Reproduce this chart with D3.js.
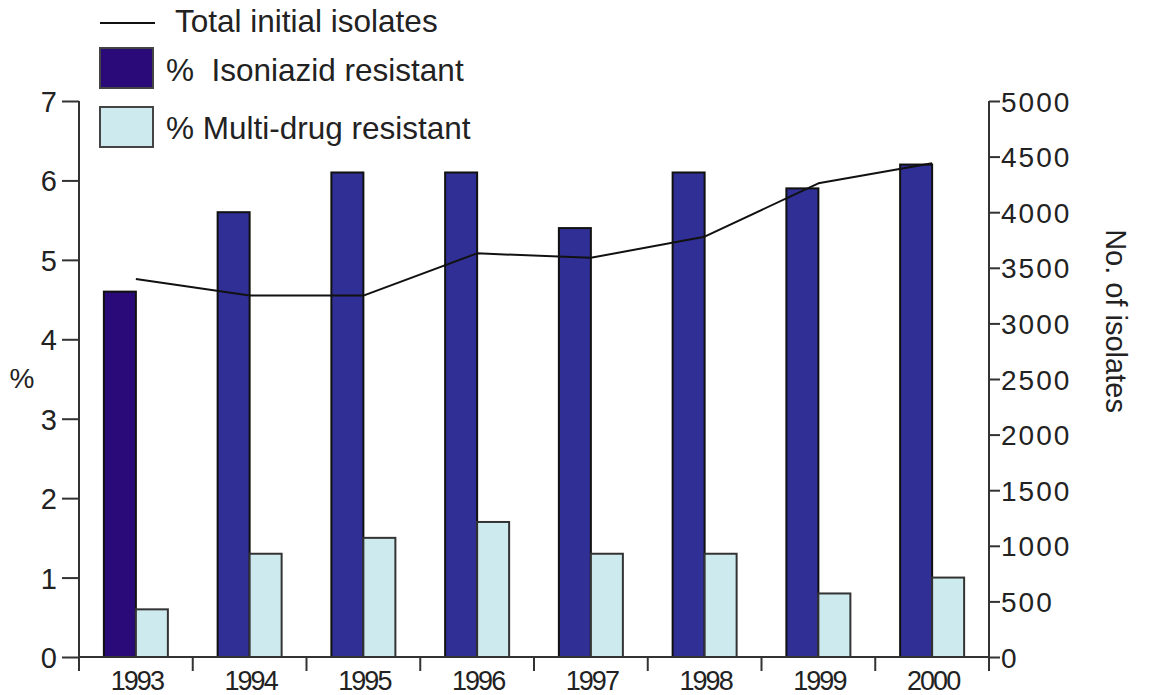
<!DOCTYPE html>
<html>
<head>
<meta charset="utf-8">
<script src="https://cdn.jsdelivr.net/npm/d3@7"></script>
<style>
  body { margin: 0; background: #fff; }
  svg text { font-family: "Liberation Sans", Arial, sans-serif; fill: #222; }
</style>
</head>
<body>
<svg width="1149" height="695"></svg>
<script>
// data
const years = ["1993", "1994", "1995", "1996", "1997", "1998", "1999", "2000"];
const isoniazid = [4.6, 5.6, 6.1, 6.1, 5.4, 6.1, 5.9, 6.2];
const multiDrug = [0.6, 1.3, 1.5, 1.7, 1.3, 1.3, 0.8, 1.0];
const isolates = [3400, 3250, 3250, 3630, 3590, 3780, 4260, 4440];
const pctTicks = [0, 1, 2, 3, 4, 5, 6, 7];
const countTicks = [0, 500, 1000, 1500, 2000, 2500, 3000, 3500, 4000, 4500, 5000];

const svgWidth = 1149, svgHeight = 695;
const margin = { top: 101, right: 160, bottom: 38, left: 79 };
const width = svgWidth - margin.left - margin.right;
const height = svgHeight - margin.top - margin.bottom;

const axisColor = "#333";
const darkFirst = "#2a0a78", dark = "#2f2f95", light = "#cdebee";

const svg = d3.select("svg");
const g = svg.append("g")
    .attr("transform", "translate(" + margin.left + "," + margin.top + ")");

const x = d3.scaleBand().domain(years).range([0, width]);
const x1 = d3.scaleBand().domain(["iso", "mdr"])
    .range([x.bandwidth() / 2 - 32, x.bandwidth() / 2 + 32]);
const y = d3.scaleLinear().domain([0, 7]).range([height, 0]);
const y2 = d3.scaleLinear().domain([0, 5000]).range([height, 0]);

const rows = years.map((yr, i) => ({ year: yr, iso: isoniazid[i], mdr: multiDrug[i], n: isolates[i] }));

// bars
const grp = g.selectAll(".yr").data(rows).enter().append("g")
    .attr("transform", d => "translate(" + x(d.year) + ",0)");

grp.append("rect")
    .attr("x", x1("iso"))
    .attr("width", x1.bandwidth())
    .attr("y", d => y(d.iso))
    .attr("height", d => height - y(d.iso))
    .attr("fill", (d, i) => i === 0 ? darkFirst : dark)
    .attr("stroke", "#111")
    .attr("stroke-width", 2);

grp.append("rect")
    .attr("x", x1("mdr"))
    .attr("width", x1.bandwidth())
    .attr("y", d => y(d.mdr))
    .attr("height", d => height - y(d.mdr))
    .attr("fill", light)
    .attr("stroke", "#333")
    .attr("stroke-width", 2);

// isolates line
const line = d3.line()
    .x(d => x(d.year) + x.bandwidth() / 2)
    .y(d => y2(d.n));

g.append("path")
    .datum(rows)
    .attr("fill", "none")
    .attr("stroke", "#111")
    .attr("stroke-width", 2)
    .attr("stroke-linejoin", "round")
    .attr("d", line);

// x axis
const xAxis = g.append("g").attr("transform", "translate(0," + height + ")");
xAxis.append("line")
    .attr("x1", 0).attr("x2", width)
    .attr("stroke", axisColor).attr("stroke-width", 2);
xAxis.selectAll(".bt").data(years.concat(["end"])).enter().append("line")
    .attr("x1", d => d === "end" ? width : x(d))
    .attr("x2", d => d === "end" ? width : x(d))
    .attr("y1", 0).attr("y2", 14)
    .attr("stroke", axisColor).attr("stroke-width", 2);
xAxis.selectAll(".lbl").data(years).enter().append("text")
    .attr("x", d => x(d) + x.bandwidth() / 2 + 1)
    .attr("y", 33)
    .attr("text-anchor", "middle")
    .style("font-size", "27px")
    .style("letter-spacing", "-2px")
    .text(d => d);

// left axis
const yAxisL = g.append("g")
    .call(d3.axisLeft(y).tickValues(pctTicks).tickFormat(d3.format("d")).tickSize(17).tickPadding(5));
yAxisL.select(".domain").remove();
yAxisL.selectAll(".tick line").attr("stroke", axisColor).attr("stroke-width", 2);
yAxisL.selectAll(".tick text").style("font-size", "29px").attr("dy", "0.36em");
yAxisL.append("line")
    .attr("y1", 0).attr("y2", height + 12)
    .attr("stroke", axisColor).attr("stroke-width", 2);

// right axis
const yAxisR = g.append("g")
    .attr("transform", "translate(" + width + ",0)")
    .call(d3.axisRight(y2).tickValues(countTicks).tickFormat(d3.format("d")).tickSize(11).tickPadding(1));
yAxisR.select(".domain").remove();
yAxisR.selectAll(".tick line").attr("stroke", axisColor).attr("stroke-width", 2);
yAxisR.selectAll(".tick text").style("font-size", "28px").style("letter-spacing", "2px").attr("dy", "0.36em");
yAxisR.append("line")
    .attr("y1", 0).attr("y2", height + 12)
    .attr("stroke", axisColor).attr("stroke-width", 2);

// axis titles
svg.append("text")
    .attr("x", 22).attr("y", 388)
    .attr("text-anchor", "middle")
    .style("font-size", "28px")
    .text("%");

svg.append("text")
    .attr("transform", "translate(1106,321) rotate(90)")
    .attr("text-anchor", "middle")
    .style("font-size", "29px")
    .text("No. of isolates");

// legend
const legend = svg.append("g");
legend.append("line")
    .attr("x1", 100).attr("x2", 155).attr("y1", 23).attr("y2", 23)
    .attr("stroke", "#111").attr("stroke-width", 2);
legend.append("text")
    .attr("x", 175).attr("y", 32)
    .style("font-size", "31.5px")
    .text("Total initial isolates");
legend.append("rect")
    .attr("x", 100).attr("y", 48).attr("width", 53).attr("height", 40)
    .attr("fill", darkFirst).attr("stroke", "#444").attr("stroke-width", 2);
legend.append("text")
    .attr("x", 166).attr("y", 81)
    .style("font-size", "31.5px")
    .style("white-space", "pre")
    .text("%  Isoniazid resistant");
legend.append("rect")
    .attr("x", 100).attr("y", 107).attr("width", 53).attr("height", 40)
    .attr("fill", light).attr("stroke", "#444").attr("stroke-width", 2);
legend.append("text")
    .attr("x", 166).attr("y", 139)
    .style("font-size", "31.5px")
    .text("% Multi-drug resistant");
</script>
</body>
</html>
